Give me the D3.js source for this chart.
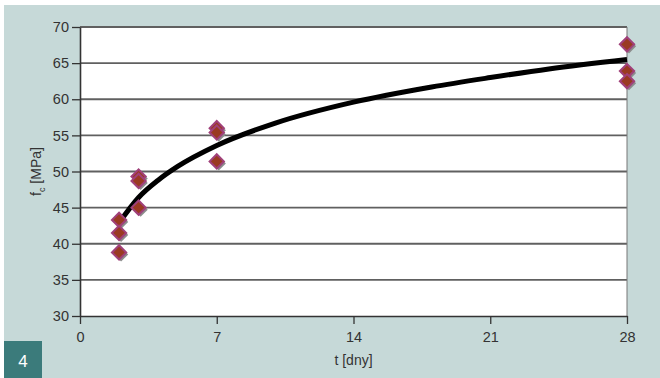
<!DOCTYPE html>
<html>
<head>
<meta charset="utf-8">
<script src="https://cdn.jsdelivr.net/npm/d3@7"></script>
<style>
  body { margin:0; background:#fff; }
  text { font-family: "Liberation Sans", Arial, sans-serif; }
</style>
</head>
<body>
<svg></svg>
<script>
var screen = {width:660,height:378}
var margins = {top:27,right:33,bottom:62,left:80}

// measured strength values
var days = [2,2,2,3,3,3,7,7,7,28,28,28]
var strength = [43.3,41.5,38.8,49.3,48.7,45.0,56.0,55.4,51.4,67.6,63.9,62.5]

// trend line
var trendDays = [2,3,4,5,7,10,14,18,21,24,28]
var trendValues = [42.9,46.4,48.8,50.7,53.6,56.7,59.6,61.7,63.0,64.2,65.5]

var xTicks = [0,7,14,21,28]
var yTicks = [30,35,40,45,50,55,60,65,70]

var svg = d3.select("svg")
  .attr("width",screen.width)
  .attr("height",screen.height)

// background panel
svg.append("rect")
  .attr("x",4).attr("y",5)
  .attr("width",screen.width-4).attr("height",screen.height-5)
  .attr("fill","#c6d9d8")

var width = screen.width - margins.left - margins.right
var height = screen.height - margins.top - margins.bottom

var xScale = d3.scaleLinear().domain([0,28]).range([0,width])
var yScale = d3.scaleLinear().domain([30,70]).range([height,0])

var g = svg.append("g")
  .attr("transform","translate("+margins.left+","+margins.top+")")

g.append("rect")
  .attr("width",width).attr("height",height)
  .attr("fill","#fff")

// grid
g.selectAll(".grid")
  .data(yTicks.slice(1))
  .enter()
  .append("line")
  .attr("x1",0).attr("x2",width)
  .attr("y1",function(d){return yScale(d)})
  .attr("y2",function(d){return yScale(d)})
  .attr("stroke","#606060")
  .attr("stroke-width",1.8)

g.append("line")
  .attr("x1",width).attr("x2",width)
  .attr("y1",0).attr("y2",height)
  .attr("stroke","#777").attr("stroke-width",1)

var xAxis = d3.axisBottom(xScale).tickValues(xTicks).tickSize(8).tickSizeOuter(0)
var yAxis = d3.axisLeft(yScale).tickValues(yTicks).tickSize(8).tickSizeOuter(0)

var gx = g.append("g")
  .attr("transform","translate(0,"+height+")")
  .call(xAxis)
var gy = g.append("g").call(yAxis)

;[gx,gy].forEach(function(a){
  a.select(".domain").attr("stroke","#333").attr("stroke-width",1.6)
  a.selectAll(".tick line").attr("stroke","#333").attr("stroke-width",1.3)
  a.selectAll(".tick text")
    .attr("fill","#333")
    .style("font-size","14.5px")
    .style("font-family","'Liberation Sans', Arial, sans-serif")
})
gx.selectAll(".tick text").attr("dy","1.05em")
gy.selectAll(".tick text").attr("x",-11)

// trend line
var linegenerator = d3.line()
  .x(function(d,i){return xScale(trendDays[i])})
  .y(function(d){return yScale(d)})
  .curve(d3.curveMonotoneX)

g.append("path")
  .datum(trendValues)
  .attr("d",linegenerator)
  .attr("fill","none")
  .attr("stroke","#000")
  .attr("stroke-width",5)

// markers
var diamond = d3.symbol().type(d3.symbolDiamond2).size(130)
var marks = g.selectAll(".pt")
  .data(strength)
  .enter()
  .append("g")
  .attr("transform",function(d,i){return "translate("+xScale(days[i])+","+yScale(d)+")"})

marks.append("path")
  .attr("d",diamond)
  .attr("transform","translate(2,2)")
  .attr("fill","#8c8c8c")
marks.append("path")
  .attr("d",diamond)
  .attr("fill","#9a3a22")
  .attr("stroke","#a0407a")
  .attr("stroke-width",2)

// axis titles
svg.append("text")
  .attr("x",margins.left+xScale(14))
  .attr("y",365)
  .attr("text-anchor","middle")
  .attr("fill","#333")
  .style("font-size","14px")
  .text("t [dny]")

var yt = svg.append("text")
  .attr("transform","translate(41,"+(margins.top+height/2)+") rotate(-90)")
  .attr("text-anchor","middle")
  .attr("fill","#333")
  .style("font-size","14px")
yt.append("tspan").text("f")
yt.append("tspan").attr("dy",4).style("font-size","9px").text("c")
yt.append("tspan").attr("dy",-4).text(" [MPa]")

// figure number
svg.append("rect")
  .attr("x",4).attr("y",341)
  .attr("width",38).attr("height",37)
  .attr("fill","#3b7b7b")
svg.append("text")
  .attr("x",23).attr("y",367)
  .attr("text-anchor","middle")
  .attr("fill","#fff")
  .style("font-size","17px")
  .text("4")
</script>
</body>
</html>
